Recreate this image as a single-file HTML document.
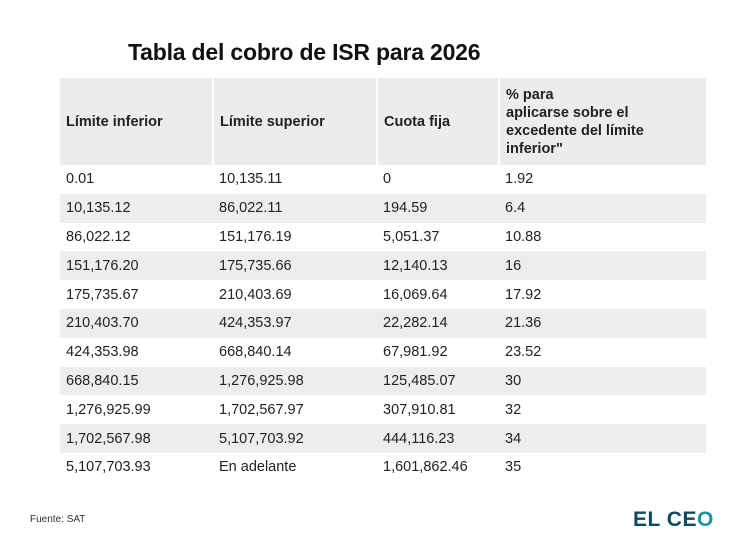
<!DOCTYPE html>
<html><head><meta charset="utf-8"><style>
body{margin:0;width:748px;height:550px;background:#fff;font-family:"Liberation Sans",sans-serif;color:#222;position:relative;overflow:hidden}
.t{position:absolute;left:128px;top:39px;font-size:23px;font-weight:bold;color:#111;letter-spacing:-0.2px}
table{position:absolute;left:60px;top:78px;width:646px;border-collapse:collapse;font-size:14.5px}
td{padding:0 0 0 6px;height:28.8px;vertical-align:middle;white-space:nowrap}
th{background:#ececec;height:87px;text-align:left;font-weight:bold;padding:0 0 0 6px;font-size:14.5px;line-height:18px;border-left:2px solid #fff}
th:first-child{border-left:none}
tr:nth-child(odd) td{background:#ededed}
tr:first-child td{background:none}
.f{position:absolute;left:30px;top:514px;font-size:10px;color:#333}
.l{position:absolute;left:633px;top:508px;font-size:21px;font-weight:bold;color:#0f4a62;letter-spacing:0.5px}
.l span{color:#1a93a3}
</style></head><body>
<div class="t">Tabla del cobro de ISR para 2026</div>
<table>
<colgroup><col style="width:153px"><col style="width:164px"><col style="width:122px"><col></colgroup>
<tr><th>Límite inferior</th><th>Límite superior</th><th>Cuota fija</th><th>% para<br>aplicarse sobre el<br>excedente del límite<br>inferior"</th></tr>
<tr><td>0.01</td><td>10,135.11</td><td>0</td><td>1.92</td></tr>
<tr><td>10,135.12</td><td>86,022.11</td><td>194.59</td><td>6.4</td></tr>
<tr><td>86,022.12</td><td>151,176.19</td><td>5,051.37</td><td>10.88</td></tr>
<tr><td>151,176.20</td><td>175,735.66</td><td>12,140.13</td><td>16</td></tr>
<tr><td>175,735.67</td><td>210,403.69</td><td>16,069.64</td><td>17.92</td></tr>
<tr><td>210,403.70</td><td>424,353.97</td><td>22,282.14</td><td>21.36</td></tr>
<tr><td>424,353.98</td><td>668,840.14</td><td>67,981.92</td><td>23.52</td></tr>
<tr><td>668,840.15</td><td>1,276,925.98</td><td>125,485.07</td><td>30</td></tr>
<tr><td>1,276,925.99</td><td>1,702,567.97</td><td>307,910.81</td><td>32</td></tr>
<tr><td>1,702,567.98</td><td>5,107,703.92</td><td>444,116.23</td><td>34</td></tr>
<tr><td>5,107,703.93</td><td>En adelante</td><td>1,601,862.46</td><td>35</td></tr>
</table>
<div class="f">Fuente: SAT</div>
<div class="l">EL CE<span>O</span></div>
</body></html>
